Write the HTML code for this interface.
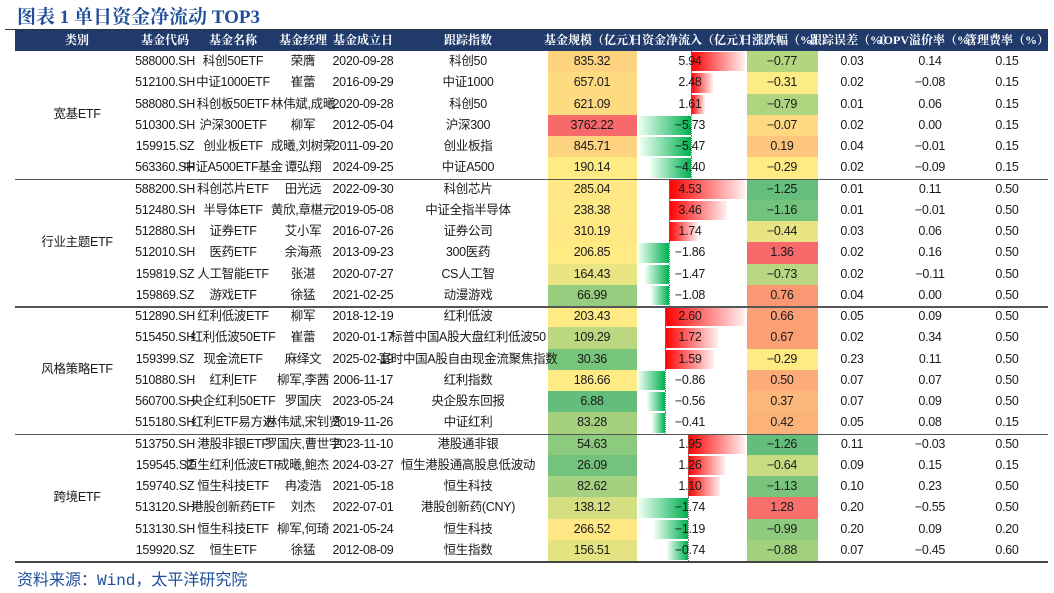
<!DOCTYPE html>
<html><head><meta charset="utf-8">
<style>
body{margin:0;background:#fff;}
#root{position:relative;width:1054px;height:593px;overflow:hidden;font-family:"Liberation Sans","Noto Sans CJK SC",sans-serif;color:#1a1a1a;}
.t{position:absolute;white-space:nowrap;text-align:center;font-size:12.5px;line-height:21px;transform:translateX(-50%);letter-spacing:-0.3px;}
.h{position:absolute;white-space:nowrap;font-size:12px;line-height:21px;color:#fff;font-weight:bold;transform:translateX(-50%);font-family:"Liberation Serif","Noto Serif CJK SC",serif;}
.cell{position:absolute;}
.line{position:absolute;background:#333;}
</style></head><body>
<div id="root">
<div style="position:absolute;left:17px;top:2px;font-size:19px;font-weight:bold;color:#1f4e99;font-family:'Liberation Serif','Noto Serif CJK SC',serif;">图表 1  单日资金净流动 TOP3</div>
<div style="position:absolute;left:15px;top:30px;width:1033px;height:21px;background:#1f3a6b;"></div>
<div class="line" style="left:5px;top:29px;width:1043px;height:1px;"></div>
<div style="position:absolute;left:17px;top:566px;font-size:16px;color:#1f4e99;font-family:'Liberation Mono','Noto Sans CJK SC',monospace;">资料来源：Wind，太平洋研究院</div>
</div>
<script>
const categories=["宽基ETF","行业主题ETF","风格策略ETF","跨境ETF"];
const codes=["588000.SH","512100.SH","588080.SH","510300.SH","159915.SZ","563360.SH","588200.SH","512480.SH","512880.SH","512010.SH","159819.SZ","159869.SZ","512890.SH","515450.SH","159399.SZ","510880.SH","560700.SH","515180.SH","513750.SH","159545.SZ","159740.SZ","513120.SH","513130.SH","159920.SZ"];
const names=["科创50ETF","中证1000ETF","科创板50ETF","沪深300ETF","创业板ETF","中证A500ETF基金","科创芯片ETF","半导体ETF","证券ETF","医药ETF","人工智能ETF","游戏ETF","红利低波ETF","红利低波50ETF","现金流ETF","红利ETF","央企红利50ETF","红利ETF易方达","港股非银ETF","恒生红利低波ETF","恒生科技ETF","港股创新药ETF","恒生科技ETF","恒生ETF"];
const managers=["荣膺","崔蕾","林伟斌,成曦","柳军","成曦,刘树荣","谭弘翔","田光远","黄欣,章椹元","艾小军","余海燕","张湛","徐猛","柳军","崔蕾","麻绎文","柳军,李茜","罗国庆","林伟斌,宋钊贤","罗国庆,曹世宇","成曦,鲍杰","冉凌浩","刘杰","柳军,何琦","徐猛"];
const dates=["2020-09-28","2016-09-29","2020-09-28","2012-05-04","2011-09-20","2024-09-25","2022-09-30","2019-05-08","2016-07-26","2013-09-23","2020-07-27","2021-02-25","2018-12-19","2020-01-17","2025-02-19","2006-11-17","2023-05-24","2019-11-26","2023-11-10","2024-03-27","2021-05-18","2022-07-01","2021-05-24","2012-08-09"];
const indices=["科创50","中证1000","科创50","沪深300","创业板指","中证A500","科创芯片","中证全指半导体","证券公司","300医药","CS人工智","动漫游戏","红利低波","标普中国A股大盘红利低波50","富时中国A股自由现金流聚焦指数","红利指数","央企股东回报","中证红利","港股通非银","恒生港股通高股息低波动","恒生科技","港股创新药(CNY)","恒生科技","恒生指数"];
const scales=[835.32,657.01,621.09,3762.22,845.71,190.14,285.04,238.38,310.19,206.85,164.43,66.99,203.43,109.29,30.36,186.66,6.88,83.28,54.63,26.09,82.62,138.12,266.52,156.51];
const flows=[5.94,2.48,1.61,-5.73,-5.47,-4.40,4.53,3.46,1.74,-1.86,-1.47,-1.08,2.60,1.72,1.59,-0.86,-0.56,-0.41,1.95,1.26,1.10,-1.74,-1.19,-0.74];
const changes=[-0.77,-0.31,-0.79,-0.07,0.19,-0.29,-1.25,-1.16,-0.44,1.36,-0.73,0.76,0.66,0.67,-0.29,0.50,0.37,0.42,-1.26,-0.64,-1.13,1.28,-0.99,-0.88];
const trackErr=[0.03,0.02,0.01,0.02,0.04,0.02,0.01,0.01,0.03,0.02,0.02,0.04,0.05,0.02,0.23,0.07,0.07,0.05,0.11,0.09,0.10,0.20,0.20,0.07];
const iopv=[0.14,-0.08,0.06,0.00,-0.01,-0.09,0.11,-0.01,0.06,0.16,-0.11,0.00,0.09,0.34,0.11,0.07,0.09,0.08,-0.03,0.15,0.23,-0.55,0.09,-0.45];
const fees=[0.15,0.15,0.15,0.15,0.15,0.15,0.50,0.50,0.50,0.50,0.50,0.50,0.50,0.50,0.50,0.50,0.50,0.15,0.50,0.15,0.50,0.50,0.20,0.60];
const headers=["类别","基金代码","基金名称","基金经理","基金成立日","跟踪指数","基金规模（亿元）","日资金净流入（亿元）","日涨跌幅（%）","跟踪误差（%）","IOPV溢价率（%）","管理费率（%）"];
const headerNames=["category","fund-code","fund-name","fund-manager","inception-date","tracking-index","fund-size","net-inflow","daily-change","tracking-error","iopv-premium","management-fee"];

const root=document.getElementById('root');
const TOP=51,RH=21.25,GROUP=6;
const colX=[77,165,233,303,363,468,592,690,782,852,930,1007];
const FL=638,FR=745;
function add(cls,txt,x,y,name){const d=document.createElement('div');d.className=cls;d.textContent=txt;d.style.left=x+'px';d.style.top=y+'px';


root.appendChild(d);return d;}
headers.forEach((h,i)=>{add('h',h,colX[i],30,'header-'+headerNames[i]);});
function mix(a,b,t){return 'rgb('+a.map((v,i)=>Math.round(v+(b[i]-v)*t)).join(',')+')';}
const G=[99,190,123],Y=[255,235,132],R=[248,105,107];
function scaleColor(v,arr){const s=[...arr].sort((a,b)=>a-b);const mn=s[0],mx=s[s.length-1],md=(s[11]+s[12])/2;
 return v<=md?mix(G,Y,(v-mn)/(md-mn)):mix(Y,R,(v-md)/(mx-md));}
function fmt(v){return v.toFixed(2).replace('-','−');}
for(let i=0;i<codes.length;i++){
 const y=TOP+i*RH;
 const sc=document.createElement('div');sc.className='cell';
 
 
 sc.style.cssText=`left:548px;top:${y}px;width:89px;height:${RH+0.5}px;background:${scaleColor(scales[i],scales)}`;root.appendChild(sc);
 const cc=document.createElement('div');cc.className='cell';
 
 
 cc.style.cssText=`left:747px;top:${y}px;width:71px;height:${RH+0.5}px;background:${scaleColor(changes[i],changes)}`;root.appendChild(cc);
 const g=Math.floor(i/GROUP),grp=flows.slice(g*GROUP,g*GROUP+GROUP);
 const mn=Math.min(0,...grp),mx=Math.max(0,...grp);
 const xs=v=>FL+(v-mn)/(mx-mn)*(FR-FL);
 const z=xs(0),e=xs(flows[i]);
 const b=document.createElement('div');b.className='cell';
 
 
 const pos=flows[i]>=0;
 b.style.cssText=`left:${Math.min(z,e)}px;top:${y+1}px;width:${Math.abs(e-z)}px;height:${RH-2}px;background:linear-gradient(${pos?'to right':'to left'},${pos?'#ff0000':'#00b050'},${pos?'#fff0f0':'#f0fff4'})`;
 root.appendChild(b);
 const ax=document.createElement('div');ax.className='cell';
 
 
 ax.style.cssText=`left:${z}px;top:${y}px;width:0;height:${RH}px;border-left:1px dotted #777`;root.appendChild(ax);
 add('t',codes[i],colX[1],y,'fund-code');
 add('t',names[i],colX[2],y,'fund-name');
 add('t',managers[i],colX[3],y,'fund-manager');
 add('t',dates[i],colX[4],y,'inception-date');
 add('t',indices[i],colX[5],y,'tracking-index');
 add('t',scales[i].toFixed(2),colX[6],y,'fund-size-value');
 add('t',fmt(flows[i]),colX[7],y,'net-inflow-value');
 add('t',fmt(changes[i]),colX[8],y,'daily-change-value');
 add('t',trackErr[i].toFixed(2),colX[9],y,'tracking-error-value');
 add('t',fmt(iopv[i]),colX[10],y,'iopv-premium-value');
 add('t',fees[i].toFixed(2),colX[11],y,'management-fee-value');
}
categories.forEach((c,g)=>{
 add('t',c,colX[0],TOP+g*GROUP*RH+2.5*RH,'category-label');
 const l=document.createElement('div');l.className='line';
 
 
 const yy=TOP+(g+1)*GROUP*RH;
 l.style.cssText=`left:15px;top:${yy}px;width:1033px;height:${g==3?2:1.5}px;background:${g==3?'#444':'#555'}`;root.appendChild(l);
});
</script>
</body></html>
